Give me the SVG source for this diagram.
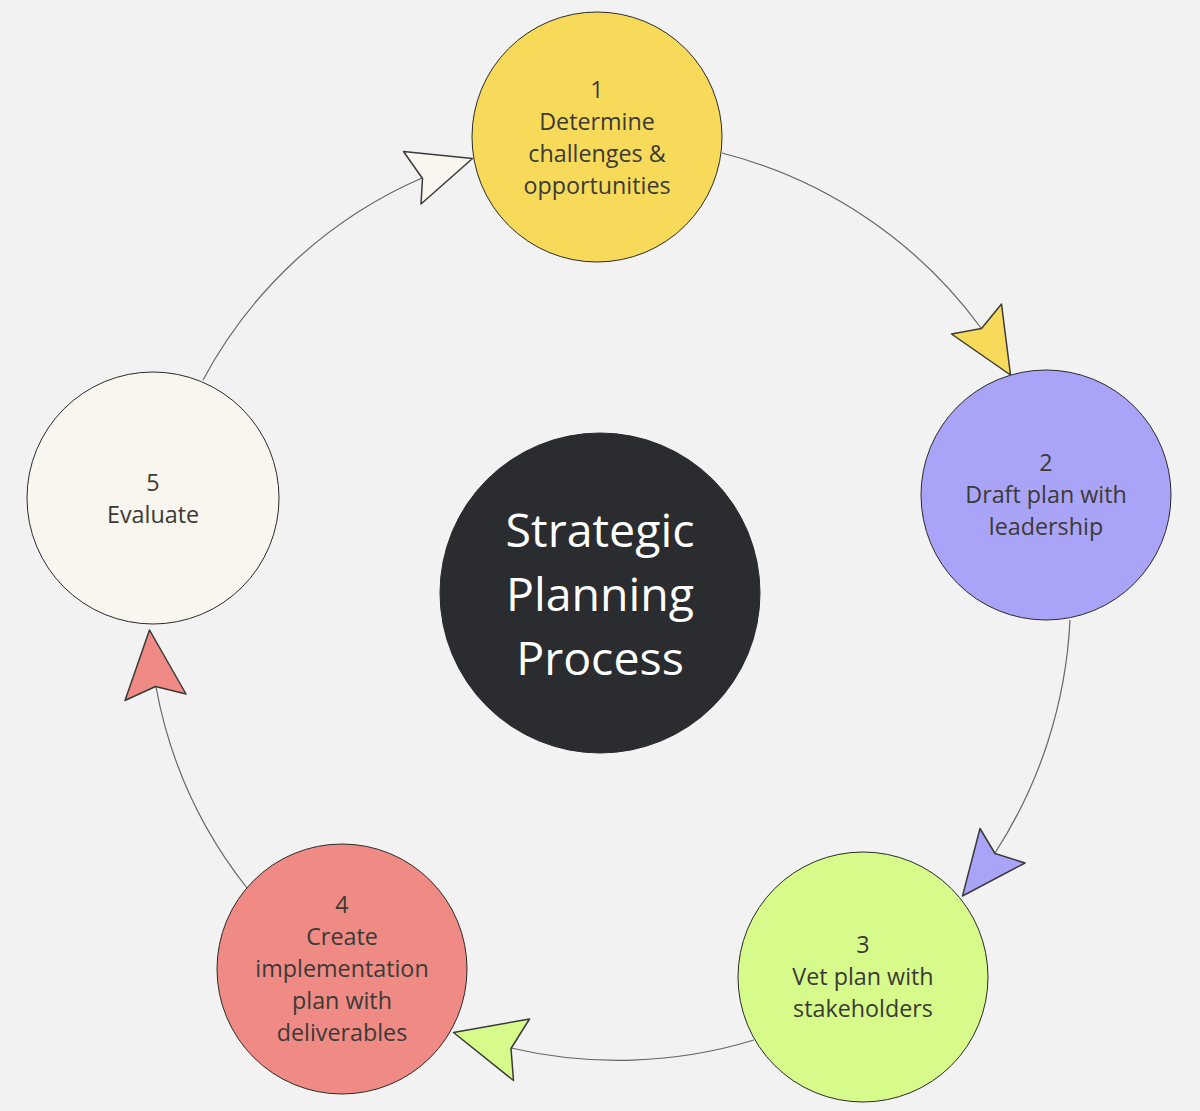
<svg xmlns="http://www.w3.org/2000/svg" width="1200" height="1111" viewBox="0 0 1200 1111">
<style>
.node{stroke:#2a2a2a;stroke-width:1}
.lbl{font-family:"Open Sans","Liberation Sans",sans-serif;font-size:23.3px;fill:#3b3a36;text-anchor:middle}
.title{font-family:"Open Sans","Liberation Sans",sans-serif;font-size:46.5px;fill:#ffffff;text-anchor:middle}
.conn{fill:none;stroke:#666;stroke-width:1.2}
.head{stroke:#3a3a3a;stroke-width:1.5;stroke-linejoin:round}
</style>
<rect width="1200" height="1111" fill="#f2f2f2"/>
<g id="connectors">
<path class="conn" d="M722,153 A462,462 0 0 1 981,328"/>
<polygon class="head" fill="#f8da5b" points="1010.5,375 951.5,334 981.5,328.5 1001.5,304"/>
<path class="conn" d="M1070,620 A470,470 0 0 1 995,853"/>
<polygon class="head" fill="#a9a4f7" points="962.5,896 980,828.5 995,853.5 1025,863"/>
<path class="conn" d="M754,1040 A468,468 0 0 1 511,1048"/>
<polygon class="head" fill="#d6fb8b" points="453.5,1032.5 529.5,1019 511,1048.5 513.5,1080.5"/>
<path class="conn" d="M247,888 A458,458 0 0 1 156,687"/>
<polygon class="head" fill="#ef8a84" points="149.5,630 125,700.5 155.5,686.5 186,694"/>
<path class="conn" d="M203,380 A452,452 0 0 1 422,178"/>
<polygon class="head" fill="#f8f6ee" points="472.5,158.5 403.5,151.5 422.5,178.5 421,204"/>
</g>
<g id="node1">
<circle class="node" cx="597" cy="137" r="125" fill="#f8da5b"/>
<text class="lbl" x="597" y="98">1</text>
<text class="lbl" x="597" y="130">Determine</text>
<text class="lbl" x="597" y="162">challenges &amp;</text>
<text class="lbl" x="597" y="194">opportunities</text>
</g>
<g id="node2">
<circle class="node" cx="1046" cy="495" r="125" fill="#a9a4f7"/>
<text class="lbl" x="1046" y="471">2</text>
<text class="lbl" x="1046" y="503">Draft plan with</text>
<text class="lbl" x="1046" y="535">leadership</text>
</g>
<g id="node3">
<circle class="node" cx="863" cy="977" r="125" fill="#d6fb8b"/>
<text class="lbl" x="863" y="953">3</text>
<text class="lbl" x="863" y="985">Vet plan with</text>
<text class="lbl" x="863" y="1017">stakeholders</text>
</g>
<g id="node4">
<circle class="node" cx="342" cy="969" r="125" fill="#ef8a84"/>
<text class="lbl" x="342" y="913">4</text>
<text class="lbl" x="342" y="945">Create</text>
<text class="lbl" x="342" y="977">implementation</text>
<text class="lbl" x="342" y="1009">plan with</text>
<text class="lbl" x="342" y="1041">deliverables</text>
</g>
<g id="node5">
<circle class="node" cx="153" cy="498" r="126" fill="#f8f6ee"/>
<text class="lbl" x="153" y="491">5</text>
<text class="lbl" x="153" y="523">Evaluate</text>
</g>
<g id="center">
<circle class="node" cx="600" cy="593" r="160" fill="#2b2c30"/>
<text class="title" x="600" y="547">Strategic</text>
<text class="title" x="600" y="611">Planning</text>
<text class="title" x="600" y="675">Process</text>
</g>
</svg>
